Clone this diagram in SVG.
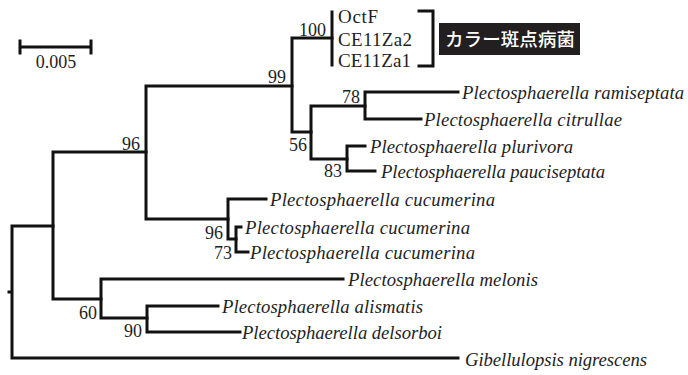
<svg xmlns="http://www.w3.org/2000/svg" width="688" height="375" viewBox="0 0 688 375">
<style>
.br{fill:none;stroke:#111;stroke-width:3;stroke-linecap:square;stroke-linejoin:miter}
.sp{font-family:"Liberation Serif",serif;font-style:italic;font-size:18.7px;fill:#1e1e1e}
.st{font-family:"Liberation Serif",serif;font-size:19px;fill:#1e1e1e}
.bs{font-family:"Liberation Serif",serif;font-size:18px;fill:#1e1e1e;text-anchor:end}
.jp{font-family:"Noto Sans CJK JP","Noto Sans CJK SC",sans-serif;font-size:18.5px;font-weight:500;fill:#fff}
</style>
<rect width="688" height="375" fill="#fff"/>
<g id="scale">
<path class="br" d="M20 47H91M20 41V53M91 41V53"/>
<text class="st" x="56" y="68" text-anchor="middle" style="font-size:18px">0.005</text>
</g>
<g id="connectors">
<path class="br" d="M9 292H12M12 226V358M12 226H53M12 358H458"/>
<path class="br" d="M53 152V299M53 152H146M53 299H101"/>
<path class="br" d="M146 86V219M146 86H292M146 219H228"/>
<path class="br" d="M292 38V132M292 38H332M292 132H311"/>
<path class="br" d="M332 12V65"/>
<path class="br" d="M311 106V159M311 106H365M311 159H347"/>
<path class="br" d="M365 92V119M365 92H458M365 119H421"/>
<path class="br" d="M347 146V171M347 146H365M347 171H375"/>
<path class="br" d="M228 199V239M228 199H266M228 239H236"/>
<path class="br" d="M236 227V252M236 227H241M236 252H248"/>
<path class="br" d="M101 279V318M101 279H343M101 318H147"/>
<path class="br" d="M147 306V332M147 306H218M147 332H240"/>
</g>
<g id="supports">
<text class="bs" x="140" y="150">96</text>
<text class="bs" x="286" y="83">99</text>
<text class="bs" x="326" y="36">100</text>
<text class="bs" x="360" y="103">78</text>
<text class="bs" x="307" y="151">56</text>
<text class="bs" x="342" y="177">83</text>
<text class="bs" x="223" y="239">96</text>
<text class="bs" x="232" y="259">73</text>
<text class="bs" x="97" y="319">60</text>
<text class="bs" x="142" y="337">90</text>
</g>
<g id="node-octf"><text class="st" x="338" y="23" textLength="40">OctF</text></g>
<g id="node-ce11za2"><text class="st" x="338" y="46" textLength="74">CE11Za2</text></g>
<g id="node-ce11za1"><text class="st" x="338" y="67" textLength="73">CE11Za1</text></g>
<g id="group-label">
<path class="br" d="M419 11H433V66H419"/>
<rect x="439" y="23" width="141" height="32" fill="#231f20"/>
<text class="jp" x="445" y="46" textLength="130">カラー斑点病菌</text>
</g>
<g id="node-ramiseptata"><text class="sp" x="462" y="99" textLength="222">Plectosphaerella ramiseptata</text></g>
<g id="node-citrullae"><text class="sp" x="424" y="126" textLength="198">Plectosphaerella citrullae</text></g>
<g id="node-plurivora"><text class="sp" x="370" y="153" textLength="203">Plectosphaerella plurivora</text></g>
<g id="node-pauciseptata"><text class="sp" x="381" y="178" textLength="224">Plectosphaerella pauciseptata</text></g>
<g id="node-cucumerina1"><text class="sp" x="270" y="206" textLength="225">Plectosphaerella cucumerina</text></g>
<g id="node-cucumerina2"><text class="sp" x="245" y="234" textLength="225">Plectosphaerella cucumerina</text></g>
<g id="node-cucumerina3"><text class="sp" x="250" y="259" textLength="225">Plectosphaerella cucumerina</text></g>
<g id="node-melonis"><text class="sp" x="348" y="286" textLength="190">Plectosphaerella melonis</text></g>
<g id="node-alismatis"><text class="sp" x="222" y="313" textLength="201">Plectosphaerella alismatis</text></g>
<g id="node-delsorboi"><text class="sp" x="242" y="339" textLength="200">Plectosphaerella delsorboi</text></g>
<g id="node-gibellulopsis"><text class="sp" x="465" y="366" textLength="182">Gibellulopsis nigrescens</text></g>
</svg>
